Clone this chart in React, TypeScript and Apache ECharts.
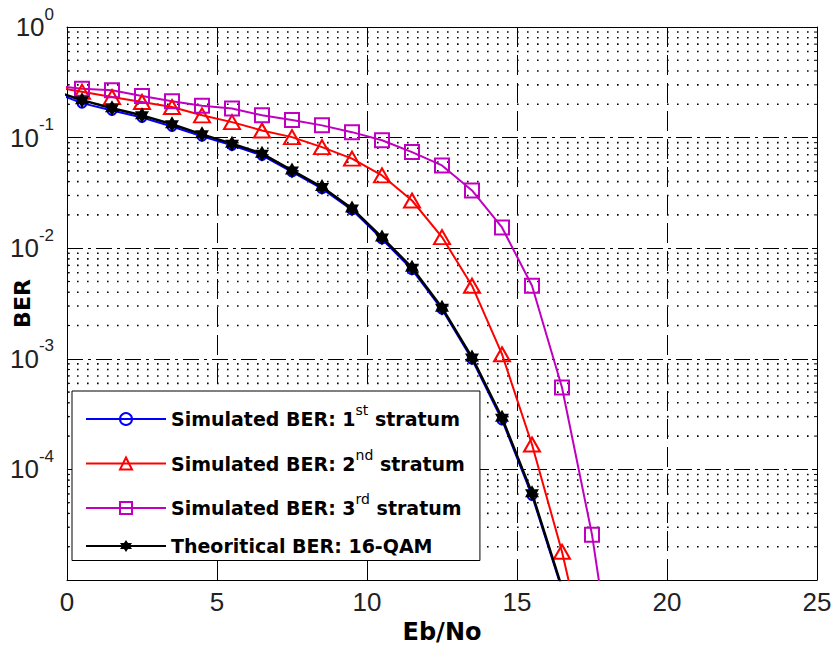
import React, { useEffect, useRef } from "react";
import * as echarts from "echarts";

// Eb/No sample positions (dB)
const ebNo = [-0.5, 0.5, 1.5, 2.5, 3.5, 4.5, 5.5, 6.5, 7.5, 8.5, 9.5, 10.5, 11.5, 12.5, 13.5, 14.5, 15.5, 16.5, 17.5, 18.5];

const berStratum1 = [0.262, 0.205, 0.176, 0.152, 0.126, 0.103, 0.085, 0.069, 0.049, 0.0345, 0.0222, 0.0121, 0.0064, 0.0028, 0.00099, 2.8e-4, 5.8e-5, 8.2e-6];
const berStratum2 = [0.29, 0.26, 0.233, 0.21, 0.189, 0.159, 0.138, 0.116, 0.101, 0.082, 0.0645, 0.0455, 0.027, 0.0126, 0.00458, 0.0011, 1.68e-4, 1.8e-5, 1.2e-6];
const berStratum3 = [0.295, 0.277, 0.268, 0.238, 0.213, 0.194, 0.183, 0.159, 0.144, 0.129, 0.112, 0.0946, 0.074, 0.056, 0.0333, 0.0154, 0.00458, 5.5e-4, 2.57e-5, 4e-7];
const berTheory = [0.268, 0.218, 0.184, 0.159, 0.132, 0.107, 0.0882, 0.0716, 0.0505, 0.0357, 0.0229, 0.0125, 0.00667, 0.0029, 0.00103, 2.93e-4, 6.1e-5, 8.5e-6];

const seriesNames = [
  "Simulated BER: 1st stratum",
  "Simulated BER: 2nd stratum",
  "Simulated BER: 3rd stratum",
  "Theoritical BER: 16-QAM",
];
const legendRich = [
  "{b|Simulated BER: 1}{s|st}{b| stratum}",
  "{b|Simulated BER: 2}{s|nd}{b| stratum}",
  "{b|Simulated BER: 3}{s|rd}{b| stratum}",
  "{b|Theoritical BER: 16-QAM}",
];

const xMin = 0;
const xMax = 25;
const xStep = 5;
const yMin = 1e-5;
const yMax = 1;
const minorMultipliers = [2, 3, 4, 5, 6, 7, 8, 9];
const decades = [-5, -4, -3, -2, -1];

const minorValues: number[] = [];
decades.forEach((d) => minorMultipliers.forEach((k) => minorValues.push(k * Math.pow(10, d))));

const pair = (ys: number[]) => ys.map((y, i) => [ebNo[i], y]);

const starPath =
  "path://M0,-7 L2,-3.5 L6,-3.5 L4,0 L6,3.5 L2,3.5 L0,7 L-2,3.5 L-6,3.5 L-4,0 L-6,-3.5 L-2,-3.5 Z";

export default function App() {
  const ref = useRef<HTMLDivElement>(null);
  useEffect(() => {
    if (!ref.current) return;
    const chart = echarts.init(ref.current, undefined, { renderer: "svg" });
    const tickFont = "'Liberation Sans', Arial, sans-serif";
    const boldFont = "'DejaVu Sans', sans-serif";
    const option: any = {
      animation: false,
      backgroundColor: "#fff",
      grid: { left: 67, top: 27, right: 16, bottom: 68, containLabel: false, outerBoundsMode: "none" },
      legend: {
        orient: "vertical",
        left: 72,
        top: 391,
        data: seriesNames,
        backgroundColor: "#fff",
        borderColor: "#000",
        borderWidth: 1,
        borderRadius: 0,
        padding: [12, 15, 5, 13],
        itemWidth: 80,
        itemHeight: 15,
        itemGap: 12.5,
        selectedMode: false,
        formatter: (name: string) => legendRich[seriesNames.indexOf(name)],
        textStyle: {
          color: "#000",
          fontFamily: boldFont,
          fontWeight: "bold",
          fontSize: 19,
          rich: {
            b: { fontFamily: boldFont, fontWeight: "bold", fontSize: 19, lineHeight: 32, color: "#000" },
            s: {
              fontFamily: boldFont,
              fontWeight: "normal",
              fontSize: 14,
              lineHeight: 14,
              padding: [0, 0, 18, 0],
              color: "#000",
            },
          },
        },
      },
      xAxis: [
        {
          type: "value",
          min: xMin,
          max: xMax,
          interval: xStep,
          position: "bottom",
          name: "Eb/No",
          nameLocation: "middle",
          nameGap: 40,
          nameMoveOverlap: false,
          nameTextStyle: { fontFamily: boldFont, fontWeight: "bold", fontSize: 24, color: "#000" },
          axisLine: { show: true, onZero: false, lineStyle: { color: "#000", width: 1 } },
          axisTick: { show: true, inside: true, length: 5, lineStyle: { color: "#000" } },
          axisLabel: { margin: 9, color: "#222", fontSize: 26, fontFamily: tickFont },
          splitLine: { show: true, lineStyle: { color: "#000", width: 1, type: [20, 8] } },
        },
        {
          type: "value",
          min: xMin,
          max: xMax,
          interval: xStep,
          position: "top",
          axisLine: { show: true, onZero: false, lineStyle: { color: "#000", width: 1 } },
          axisTick: { show: true, inside: true, length: 5, lineStyle: { color: "#000" } },
          axisLabel: { show: false },
          splitLine: { show: false },
        },
      ],
      yAxis: [
        {
          type: "log",
          logBase: 10,
          min: yMin,
          max: yMax,
          position: "left",
          name: "BER",
          nameLocation: "middle",
          nameGap: 34,
          nameMoveOverlap: false,
          nameTextStyle: { fontFamily: boldFont, fontWeight: "bold", fontSize: 22, color: "#000" },
          axisLine: { show: true, onZero: false, lineStyle: { color: "#000", width: 1 } },
          axisTick: { show: true, inside: true, length: 5, lineStyle: { color: "#000" } },
          axisLabel: {
            margin: 13,
            formatter: (v: number) => {
              const e = Math.round(Math.log10(v));
              if (e === -5) return "";
              return `{b|10}{s|${e}}`;
            },
            rich: {
              b: { fontFamily: tickFont, fontSize: 26, lineHeight: 24, color: "#222" },
              s: { fontFamily: tickFont, fontSize: 17, lineHeight: 16, padding: [0, 0, 26, 0], color: "#222" },
            },
          },
          splitLine: { show: true, lineStyle: { color: "#000", width: 1, type: [16, 5, 3, 5] } },
        },
        {
          type: "log",
          logBase: 10,
          min: yMin,
          max: yMax,
          position: "right",
          axisLine: { show: true, onZero: false, lineStyle: { color: "#000", width: 1 } },
          axisTick: { show: true, inside: true, length: 5, lineStyle: { color: "#000" } },
          axisLabel: { show: false },
          splitLine: { show: false },
        },
      ],
      series: [
        {
          type: "custom",
          name: "minorGrid",
          silent: true,
          z: 1,
          clip: false,
          data: minorValues.map((v) => [xMin, v]),
          renderItem: (params: any, api: any) => {
            const v = api.value(1);
            const p0 = api.coord([xMin, v]);
            const p1 = api.coord([xMax, v]);
            return {
              type: "group",
              children: [
                {
                  type: "line",
                  shape: { x1: p0[0], y1: p0[1], x2: p1[0], y2: p1[1] },
                  style: { stroke: "#000", lineWidth: 1.6, lineDash: [1.6, 8.4] },
                },
                {
                  type: "line",
                  shape: { x1: p0[0], y1: p0[1], x2: p0[0] + 3, y2: p0[1] },
                  style: { stroke: "#000", lineWidth: 1 },
                },
                {
                  type: "line",
                  shape: { x1: p1[0] - 3, y1: p1[1], x2: p1[0], y2: p1[1] },
                  style: { stroke: "#000", lineWidth: 1 },
                },
              ],
            };
          },
        },
        {
          name: seriesNames[0],
          type: "line",
          data: pair(berStratum1),
          clip: true,
          z: 3,
          symbol: "circle",
          symbolSize: 9,
          showAllSymbol: true,
          lineStyle: { color: "#0000ff", width: 2 },
          itemStyle: { color: "rgba(0,0,0,0)", borderColor: "#0000ff", borderWidth: 2 },
        },
        {
          name: seriesNames[1],
          type: "line",
          data: pair(berStratum2),
          clip: true,
          z: 3,
          symbol: "triangle",
          symbolSize: [16, 14],
          showAllSymbol: true,
          lineStyle: { color: "#ff0000", width: 2 },
          itemStyle: { color: "rgba(0,0,0,0)", borderColor: "#ff0000", borderWidth: 2 },
        },
        {
          name: seriesNames[2],
          type: "line",
          data: pair(berStratum3),
          clip: true,
          z: 3,
          symbol: "rect",
          symbolSize: 14,
          showAllSymbol: true,
          lineStyle: { color: "#c000c0", width: 2 },
          itemStyle: { color: "rgba(0,0,0,0)", borderColor: "#c000c0", borderWidth: 2 },
        },
        {
          name: seriesNames[3],
          type: "line",
          data: pair(berTheory),
          clip: true,
          z: 4,
          symbol: starPath,
          symbolSize: [14, 16],
          showAllSymbol: true,
          lineStyle: { color: "#000", width: 2.5 },
          itemStyle: { color: "#000", borderColor: "#000", borderWidth: 0 },
        },
      ],
    };
    chart.setOption(option);
    return () => chart.dispose();
  }, []);
  return <div ref={ref} style={{ width: 833, height: 648, position: "absolute", left: 0, top: 0 }} />;
}
